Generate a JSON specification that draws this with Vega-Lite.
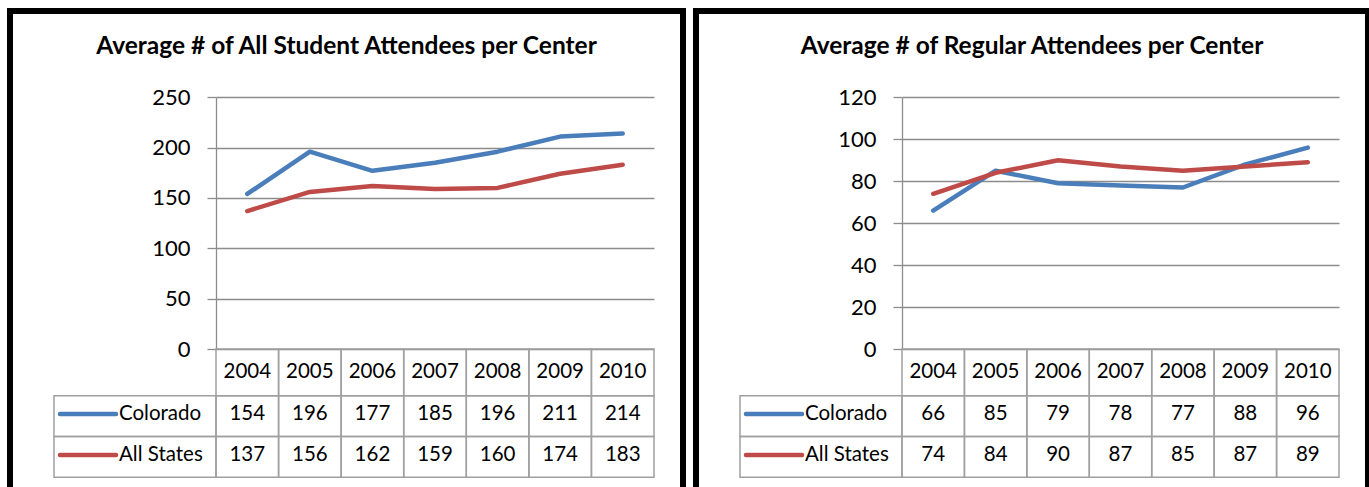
{
  "$schema": "https://vega.github.io/schema/vega-lite/v6.json",
  "padding": {"left": 7, "top": 8, "right": 0, "bottom": 0},
  "background": "white",
  "config": {
    "font": "Lato",
    "view": {"stroke": "#000000", "strokeWidth": 6},
    "concat": {"spacing": 7}
  },
  "datasets": {
    "allStud": [
      {"series": "Colorado", "year": 2004, "value": 154},
      {"series": "Colorado", "year": 2005, "value": 196},
      {"series": "Colorado", "year": 2006, "value": 177},
      {"series": "Colorado", "year": 2007, "value": 185},
      {"series": "Colorado", "year": 2008, "value": 196},
      {"series": "Colorado", "year": 2009, "value": 211},
      {"series": "Colorado", "year": 2010, "value": 214},
      {"series": "All States", "year": 2004, "value": 137},
      {"series": "All States", "year": 2005, "value": 156},
      {"series": "All States", "year": 2006, "value": 162},
      {"series": "All States", "year": 2007, "value": 159},
      {"series": "All States", "year": 2008, "value": 160},
      {"series": "All States", "year": 2009, "value": 174},
      {"series": "All States", "year": 2010, "value": 183}
    ],
    "regular": [
      {"series": "Colorado", "year": 2004, "value": 66},
      {"series": "Colorado", "year": 2005, "value": 85},
      {"series": "Colorado", "year": 2006, "value": 79},
      {"series": "Colorado", "year": 2007, "value": 78},
      {"series": "Colorado", "year": 2008, "value": 77},
      {"series": "Colorado", "year": 2009, "value": 88},
      {"series": "Colorado", "year": 2010, "value": 96},
      {"series": "All States", "year": 2004, "value": 74},
      {"series": "All States", "year": 2005, "value": 84},
      {"series": "All States", "year": 2006, "value": 90},
      {"series": "All States", "year": 2007, "value": 87},
      {"series": "All States", "year": 2008, "value": 85},
      {"series": "All States", "year": 2009, "value": 87},
      {"series": "All States", "year": 2010, "value": 89}
    ],
    "years": [
      {"year": 2004, "row": "Year"},
      {"year": 2005, "row": "Year"},
      {"year": 2006, "row": "Year"},
      {"year": 2007, "row": "Year"},
      {"year": 2008, "row": "Year"},
      {"year": 2009, "row": "Year"},
      {"year": 2010, "row": "Year"}
    ],
    "series": [
      {"series": "Colorado"},
      {"series": "All States"}
    ]
  },
  "hconcat": [
    {
      "width": 673,
      "height": 490,
      "title": {"text": "Average # of All Student Attendees per Center", "fontSize": 24.5, "fontWeight": "bold", "anchor": "middle", "offset": -60, "baseline": "middle", "color": "#000000"},
      "layer": [
        {
          "data": {"name": "years"},
          "mark": {"type": "rect", "fill": "transparent", "stroke": "#A0A0A0", "strokeWidth": 1.5},
          "encoding": {
            "x": {"field": "year", "type": "ordinal", "axis": null, "scale": {"type": "band", "domain": [2004, 2005, 2006, 2007, 2008, 2009, 2010], "range": [206, 644], "paddingInner": 0, "paddingOuter": 0}},
            "y": {"field": "row", "type": "nominal", "axis": null, "scale": {"type": "band", "domain": ["Year"], "range": [338, 384.7], "paddingInner": 0, "paddingOuter": 0}}
          }
        },
        {
          "data": {"name": "years"},
          "mark": {"type": "text", "fontSize": 20.5, "color": "#000000"},
          "encoding": {
            "x": {"field": "year", "type": "ordinal", "axis": null, "scale": {"type": "band", "domain": [2004, 2005, 2006, 2007, 2008, 2009, 2010], "range": [206, 644], "paddingInner": 0, "paddingOuter": 0}},
            "y": {"field": "row", "type": "nominal", "axis": null, "scale": {"type": "band", "domain": ["Year"], "range": [338, 384.7], "paddingInner": 0, "paddingOuter": 0}},
            "text": {"field": "year", "type": "nominal"}
          }
        },
        {
          "data": {"name": "allStud"},
          "mark": {"type": "rect", "fill": "transparent", "stroke": "#A0A0A0", "strokeWidth": 1.5},
          "encoding": {
            "x": {"field": "year", "type": "ordinal", "axis": null, "scale": {"type": "band", "domain": [2004, 2005, 2006, 2007, 2008, 2009, 2010], "range": [206, 644], "paddingInner": 0, "paddingOuter": 0}},
            "y": {"field": "series", "type": "nominal", "axis": null, "scale": {"type": "band", "domain": ["Colorado", "All States"], "range": [384.7, 466.3], "paddingInner": 0, "paddingOuter": 0}}
          }
        },
        {
          "data": {"name": "allStud"},
          "mark": {"type": "text", "fontSize": 20.5, "color": "#000000", "dy": -2},
          "encoding": {
            "x": {"field": "year", "type": "ordinal", "axis": null, "scale": {"type": "band", "domain": [2004, 2005, 2006, 2007, 2008, 2009, 2010], "range": [206, 644], "paddingInner": 0, "paddingOuter": 0}},
            "y": {"field": "series", "type": "nominal", "axis": null, "scale": {"type": "band", "domain": ["Colorado", "All States"], "range": [384.7, 466.3], "paddingInner": 0, "paddingOuter": 0}},
            "text": {"field": "value", "type": "quantitative"}
          }
        },
        {
          "data": {"name": "series"},
          "mark": {"type": "rect", "fill": "transparent", "stroke": "#A0A0A0", "strokeWidth": 1.5},
          "encoding": {
            "x": {"datum": "label", "type": "nominal", "axis": null, "scale": {"type": "band", "domain": ["label"], "range": [44, 206], "paddingInner": 0, "paddingOuter": 0}},
            "y": {"field": "series", "type": "nominal", "axis": null, "scale": {"type": "band", "domain": ["Colorado", "All States"], "range": [384.7, 466.3], "paddingInner": 0, "paddingOuter": 0}}
          }
        },
        {
          "data": {"name": "series"},
          "mark": {"type": "point", "shape": "stroke", "filled": false, "strokeWidth": 4.5, "size": 3136, "strokeCap": "round", "opacity": 1, "xOffset": 34, "yOffset": -2},
          "encoding": {
            "x": {"datum": "label", "type": "nominal", "bandPosition": 0, "axis": null, "scale": {"type": "band", "domain": ["label"], "range": [44, 206], "paddingInner": 0, "paddingOuter": 0}},
            "y": {"field": "series", "type": "nominal", "bandPosition": 0.5, "axis": null, "scale": {"type": "band", "domain": ["Colorado", "All States"], "range": [384.7, 466.3], "paddingInner": 0, "paddingOuter": 0}},
            "color": {"field": "series", "type": "nominal", "legend": null, "scale": {"domain": ["Colorado", "All States"], "range": ["#4A7EBB", "#BE4B48"]}}
          }
        },
        {
          "data": {"name": "series"},
          "mark": {"type": "text", "fontSize": 20.5, "color": "#000000", "align": "left", "dx": 65, "dy": -2},
          "encoding": {
            "x": {"datum": "label", "type": "nominal", "bandPosition": 0, "axis": null, "scale": {"type": "band", "domain": ["label"], "range": [44, 206], "paddingInner": 0, "paddingOuter": 0}},
            "y": {"field": "series", "type": "nominal", "axis": null, "scale": {"type": "band", "domain": ["Colorado", "All States"], "range": [384.7, 466.3], "paddingInner": 0, "paddingOuter": 0}},
            "text": {"field": "series", "type": "nominal"}
          }
        },
        {
          "data": {"name": "allStud"},
          "mark": {"type": "line", "strokeWidth": 4.5, "strokeCap": "round", "strokeJoin": "round"},
          "encoding": {
            "x": {"field": "year", "type": "ordinal", "bandPosition": 0.5, "axis": null, "scale": {"type": "band", "domain": [2004, 2005, 2006, 2007, 2008, 2009, 2010], "range": [206, 644], "paddingInner": 0, "paddingOuter": 0}},
            "y": {"field": "value", "type": "quantitative", "scale": {"domain": [0, 250], "range": [338, 86.3], "nice": false, "zero": true},
              "axis": {"title": null, "offset": -206, "values": [0, 50, 100, 150, 200, 250], "grid": true, "gridColor": "#8C8C8C", "gridWidth": 1.3, "domainColor": "#8C8C8C", "domainWidth": 1.3, "tickColor": "#8C8C8C", "tickWidth": 1.3, "tickSize": 9, "labelPadding": 17, "labelFontSize": 22, "labelColor": "#000000"}},
            "color": {"field": "series", "type": "nominal", "legend": null, "scale": {"domain": ["Colorado", "All States"], "range": ["#4A7EBB", "#BE4B48"]}}
          }
        }
      ],
      "resolve": {"scale": {"x": "independent", "y": "independent", "color": "independent"}}
    },
    {
      "width": 672,
      "height": 490,
      "title": {"text": "Average # of Regular Attendees per Center", "fontSize": 24.5, "fontWeight": "bold", "anchor": "middle", "offset": -60, "baseline": "middle", "color": "#000000"},
      "layer": [
        {
          "data": {"name": "years"},
          "mark": {"type": "rect", "fill": "transparent", "stroke": "#A0A0A0", "strokeWidth": 1.5},
          "encoding": {
            "x": {"field": "year", "type": "ordinal", "axis": null, "scale": {"type": "band", "domain": [2004, 2005, 2006, 2007, 2008, 2009, 2010], "range": [206, 643], "paddingInner": 0, "paddingOuter": 0}},
            "y": {"field": "row", "type": "nominal", "axis": null, "scale": {"type": "band", "domain": ["Year"], "range": [338, 384.7], "paddingInner": 0, "paddingOuter": 0}}
          }
        },
        {
          "data": {"name": "years"},
          "mark": {"type": "text", "fontSize": 20.5, "color": "#000000"},
          "encoding": {
            "x": {"field": "year", "type": "ordinal", "axis": null, "scale": {"type": "band", "domain": [2004, 2005, 2006, 2007, 2008, 2009, 2010], "range": [206, 643], "paddingInner": 0, "paddingOuter": 0}},
            "y": {"field": "row", "type": "nominal", "axis": null, "scale": {"type": "band", "domain": ["Year"], "range": [338, 384.7], "paddingInner": 0, "paddingOuter": 0}},
            "text": {"field": "year", "type": "nominal"}
          }
        },
        {
          "data": {"name": "regular"},
          "mark": {"type": "rect", "fill": "transparent", "stroke": "#A0A0A0", "strokeWidth": 1.5},
          "encoding": {
            "x": {"field": "year", "type": "ordinal", "axis": null, "scale": {"type": "band", "domain": [2004, 2005, 2006, 2007, 2008, 2009, 2010], "range": [206, 643], "paddingInner": 0, "paddingOuter": 0}},
            "y": {"field": "series", "type": "nominal", "axis": null, "scale": {"type": "band", "domain": ["Colorado", "All States"], "range": [384.7, 466.3], "paddingInner": 0, "paddingOuter": 0}}
          }
        },
        {
          "data": {"name": "regular"},
          "mark": {"type": "text", "fontSize": 20.5, "color": "#000000", "dy": -2},
          "encoding": {
            "x": {"field": "year", "type": "ordinal", "axis": null, "scale": {"type": "band", "domain": [2004, 2005, 2006, 2007, 2008, 2009, 2010], "range": [206, 643], "paddingInner": 0, "paddingOuter": 0}},
            "y": {"field": "series", "type": "nominal", "axis": null, "scale": {"type": "band", "domain": ["Colorado", "All States"], "range": [384.7, 466.3], "paddingInner": 0, "paddingOuter": 0}},
            "text": {"field": "value", "type": "quantitative"}
          }
        },
        {
          "data": {"name": "series"},
          "mark": {"type": "rect", "fill": "transparent", "stroke": "#A0A0A0", "strokeWidth": 1.5},
          "encoding": {
            "x": {"datum": "label", "type": "nominal", "axis": null, "scale": {"type": "band", "domain": ["label"], "range": [44, 206], "paddingInner": 0, "paddingOuter": 0}},
            "y": {"field": "series", "type": "nominal", "axis": null, "scale": {"type": "band", "domain": ["Colorado", "All States"], "range": [384.7, 466.3], "paddingInner": 0, "paddingOuter": 0}}
          }
        },
        {
          "data": {"name": "series"},
          "mark": {"type": "point", "shape": "stroke", "filled": false, "strokeWidth": 4.5, "size": 3136, "strokeCap": "round", "opacity": 1, "xOffset": 34, "yOffset": -2},
          "encoding": {
            "x": {"datum": "label", "type": "nominal", "bandPosition": 0, "axis": null, "scale": {"type": "band", "domain": ["label"], "range": [44, 206], "paddingInner": 0, "paddingOuter": 0}},
            "y": {"field": "series", "type": "nominal", "bandPosition": 0.5, "axis": null, "scale": {"type": "band", "domain": ["Colorado", "All States"], "range": [384.7, 466.3], "paddingInner": 0, "paddingOuter": 0}},
            "color": {"field": "series", "type": "nominal", "legend": null, "scale": {"domain": ["Colorado", "All States"], "range": ["#4A7EBB", "#BE4B48"]}}
          }
        },
        {
          "data": {"name": "series"},
          "mark": {"type": "text", "fontSize": 20.5, "color": "#000000", "align": "left", "dx": 65, "dy": -2},
          "encoding": {
            "x": {"datum": "label", "type": "nominal", "bandPosition": 0, "axis": null, "scale": {"type": "band", "domain": ["label"], "range": [44, 206], "paddingInner": 0, "paddingOuter": 0}},
            "y": {"field": "series", "type": "nominal", "axis": null, "scale": {"type": "band", "domain": ["Colorado", "All States"], "range": [384.7, 466.3], "paddingInner": 0, "paddingOuter": 0}},
            "text": {"field": "series", "type": "nominal"}
          }
        },
        {
          "data": {"name": "regular"},
          "mark": {"type": "line", "strokeWidth": 4.5, "strokeCap": "round", "strokeJoin": "round"},
          "encoding": {
            "x": {"field": "year", "type": "ordinal", "bandPosition": 0.5, "axis": null, "scale": {"type": "band", "domain": [2004, 2005, 2006, 2007, 2008, 2009, 2010], "range": [206, 643], "paddingInner": 0, "paddingOuter": 0}},
            "y": {"field": "value", "type": "quantitative", "scale": {"domain": [0, 120], "range": [338, 86.3], "nice": false, "zero": true},
              "axis": {"title": null, "offset": -206, "values": [0, 20, 40, 60, 80, 100, 120], "grid": true, "gridColor": "#8C8C8C", "gridWidth": 1.3, "domainColor": "#8C8C8C", "domainWidth": 1.3, "tickColor": "#8C8C8C", "tickWidth": 1.3, "tickSize": 9, "labelPadding": 17, "labelFontSize": 22, "labelColor": "#000000"}},
            "color": {"field": "series", "type": "nominal", "legend": null, "scale": {"domain": ["Colorado", "All States"], "range": ["#4A7EBB", "#BE4B48"]}}
          }
        }
      ],
      "resolve": {"scale": {"x": "independent", "y": "independent", "color": "independent"}}
    }
  ]
}
